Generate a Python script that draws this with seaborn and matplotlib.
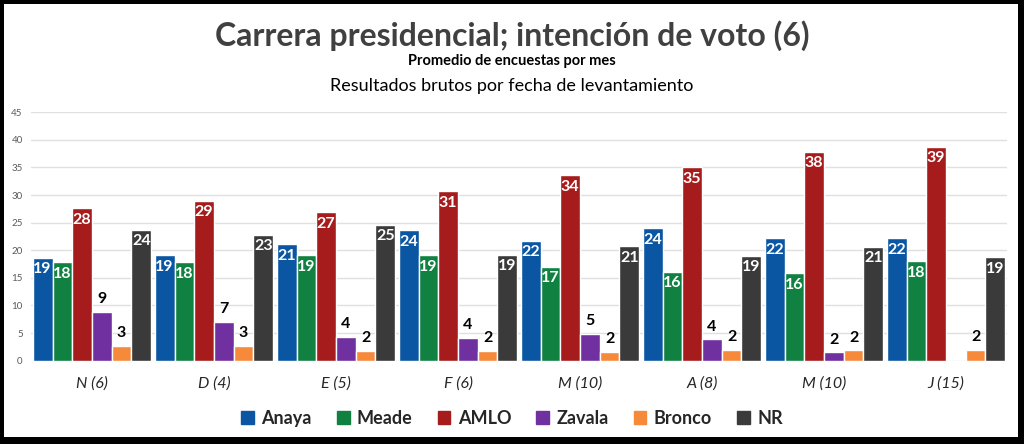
import numpy as np
import pandas as pd
import seaborn as sns
import matplotlib.pyplot as plt
from matplotlib.patches import Rectangle

# datos
meses = ['N (6)', 'D (4)', 'E (5)', 'F (6)', 'M (10)', 'A (8)', 'M (10) ', 'J (15)']
candidatos = ['Anaya', 'Meade', 'AMLO', 'Zavala', 'Bronco', 'NR']

anaya = [18.6, 19.1, 21.1, 23.6, 21.7, 24.0, 22.2, 22.2]
meade = [17.8, 17.8, 19.1, 19.1, 17.0, 16.1, 15.8, 18.0]
amlo = [27.6, 29.0, 26.9, 30.7, 33.6, 35.0, 37.8, 38.7]
zavala = [8.9, 7.1, 4.3, 4.2, 4.9, 3.9, 1.5, np.nan]
bronco = [2.7, 2.7, 1.8, 1.8, 1.6, 2.0, 1.9, 2.0]
nr = [23.7, 22.8, 24.6, 19.2, 20.7, 19.0, 20.6, 18.7]

colores = ['#0b56a3', '#108140', '#a61c1c', '#7030a0', '#f7893b', '#3a3a3a']

series = [anaya, meade, amlo, zavala, bronco, nr]
df = pd.DataFrame({
    'mes': meses * len(candidatos),
    'candidato': np.repeat(candidatos, len(meses)),
    'valor': np.concatenate(series),
})

sns.set_style('white')
plt.rcParams['font.family'] = ['Lato', 'DejaVu Sans']

fig = plt.figure(figsize=(10.24, 4.44), dpi=100)

# marco negro alrededor
fig.patches.append(Rectangle((0, 0), 1, 1, transform=fig.transFigure,
                             facecolor='black', edgecolor='none', zorder=-10))
fig.patches.append(Rectangle((4 / 1024, 7 / 444), 1014 / 1024, 433 / 444,
                             transform=fig.transFigure, facecolor='white',
                             edgecolor='none', zorder=-9))

ax = fig.add_axes([31 / 1024, 83.3 / 444, 976 / 1024, 248.4 / 444])
ax.patch.set_alpha(0)

sns.barplot(data=df, x='mes', y='valor', hue='candidato', order=meses,
            hue_order=candidatos, palette=colores, width=0.97, gap=0,
            saturation=1, ax=ax, legend=False)

ax.set_ylim(0, 45)
ax.set_xlim(-0.5, len(meses) - 0.5)
ax.set_yticks(range(0, 46, 5))
ax.yaxis.grid(True, color='#e0e0e0', lw=1)
ax.set_axisbelow(True)
for s in ax.spines.values():
    s.set_visible(False)
ax.set_xlabel('')
ax.set_ylabel('')
ax.tick_params(axis='y', labelsize=7, colors='#595959', length=0, pad=6)
ax.tick_params(axis='x', length=0, pad=11)
ax.set_xticks(range(len(meses)))
ax.set_xticklabels([m.strip() for m in meses], fontsize=11.5, style='italic',
                   color='#262626')

# etiquetas de valores
for cont in ax.containers:
    for barra in cont:
        h = barra.get_height()
        if np.isnan(h) or h == 0:
            continue
        xc = barra.get_x() + barra.get_width() / 2
        txt = '%d' % round(h)
        if h >= 10:
            ax.text(xc, h - 0.8, txt, ha='center', va='top', color='white',
                    fontsize=11.5, fontweight='bold')
        else:
            ax.text(xc, h + 1.0, txt, ha='center', va='bottom', color='black',
                    fontsize=11.5, fontweight='bold')

# leyenda
handles = [Rectangle((0, 0), 1, 1, color=c) for c in colores]
fig.legend(handles, candidatos, loc='center', bbox_to_anchor=(0.5, 1 - 418 / 444),
           ncol=6, frameon=False, handlelength=0.7, handleheight=0.7,
           handletextpad=0.4, columnspacing=1.4,
           prop={'size': 13, 'weight': 'bold'})

fig.text(0.5, 1 - 36 / 444, 'Carrera presidencial; intención de voto (6)',
         ha='center', va='center', fontsize=23, fontweight='bold', color='#404040')
fig.text(0.5, 1 - 61 / 444, 'Promedio de encuestas por mes', ha='center',
         va='center', fontsize=10.5, fontweight='bold', color='black')
fig.text(0.5, 1 - 86 / 444, 'Resultados brutos por fecha de levantamiento',
         ha='center', va='center', fontsize=13, color='black')

fig.savefig('out.png', dpi=100)
